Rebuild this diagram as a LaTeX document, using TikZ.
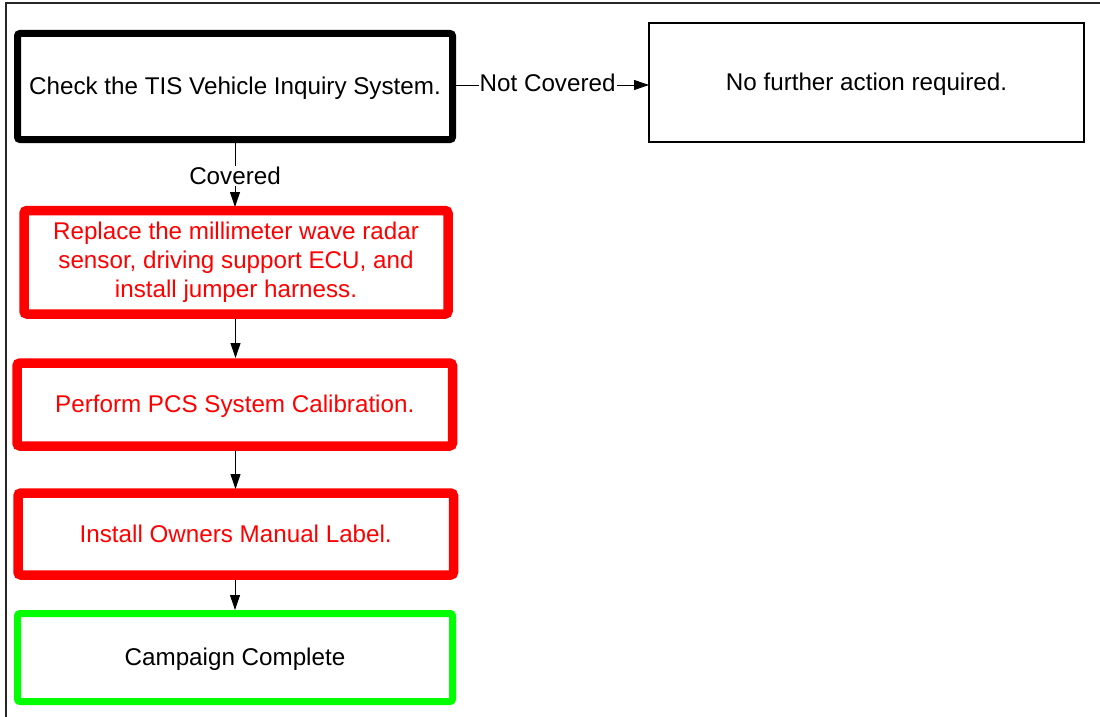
\documentclass[tikz,border=0pt]{standalone}
\usepackage{fontspec}
\setmainfont{Liberation Sans}
\usetikzlibrary{arrows.meta}
\definecolor{boxred}{RGB}{255,0,0}
\definecolor{boxgreen}{RGB}{0,255,0}
\begin{document}
\begin{tikzpicture}[x=1pt,y=-1pt,
  every node/.style={font=\fontsize{24.2}{29}\selectfont, align=center, inner sep=0pt, outer sep=0pt},
  oneline/.style={text height=16pt, text depth=0pt},
  blackbox/.style={draw=black, line width=7pt, rounded corners=2.5pt, minimum width=435pt, minimum height=106pt},
  plainbox/.style={draw=black, line width=1.5pt, minimum width=435pt, minimum height=119pt},
  redbox/.style={draw=boxred, text=boxred, line width=9.5pt, rounded corners=3pt},
  greenbox/.style={draw=boxgreen, line width=7pt, rounded corners=2.5pt, minimum width=435pt, minimum height=88pt},
  conn/.style={draw=black, line width=0.9pt, -{Triangle[length=15pt,width=10pt]}},
  lbl/.style={fill=white, inner sep=1pt}
]
\useasboundingbox (0,0) rectangle (1100,717);
\fill[white] (0,0) rectangle (1100,717);
\draw[line width=1.5pt, black!85] (6,717) -- (6,3) -- (1100,3);

\node[blackbox, oneline] (check) at (235,86.5) {Check the TIS Vehicle Inquiry System.};
\node[plainbox, oneline] (none) at (866.5,82.5) {No further action required.};
\node[redbox, minimum width=424pt, minimum height=103.5pt] (replace) at (236,262.25)
  {Replace the millimeter wave radar\\sensor, driving support ECU, and\\install jumper harness.};
\node[redbox, oneline, minimum width=435.5pt, minimum height=83pt] (pcs) at (234.75,404.5)
  {Perform PCS System Calibration.};
\node[redbox, oneline, minimum width=435.5pt, minimum height=82pt] (label) at (235.75,534)
  {Install Owners Manual Label.};
\node[greenbox, oneline] (done) at (235,657.5) {Campaign Complete};

\coordinate (c1) at (454,85);
\coordinate (c2) at (649,85);
\draw[conn] (c1) -- node[lbl, pos=0.48, yshift=2.5pt] (nc) {Not Covered} (c2);

\coordinate (d1) at (235,143);
\coordinate (d2) at (235,207);
\draw[conn] (d1) -- node[lbl, pos=0.52] (cv) {Covered} (d2);

\coordinate (e1) at (235.5,319);
\coordinate (e2) at (235.5,358);
\draw[conn] (e1) -- (e2);
\coordinate (f1) at (235.5,450);
\coordinate (f2) at (235.5,489);
\draw[conn] (f1) -- (f2);
\coordinate (g1) at (235,580);
\coordinate (g2) at (235,610);
\draw[conn] (g1) -- (g2);
\end{tikzpicture}
\end{document}
